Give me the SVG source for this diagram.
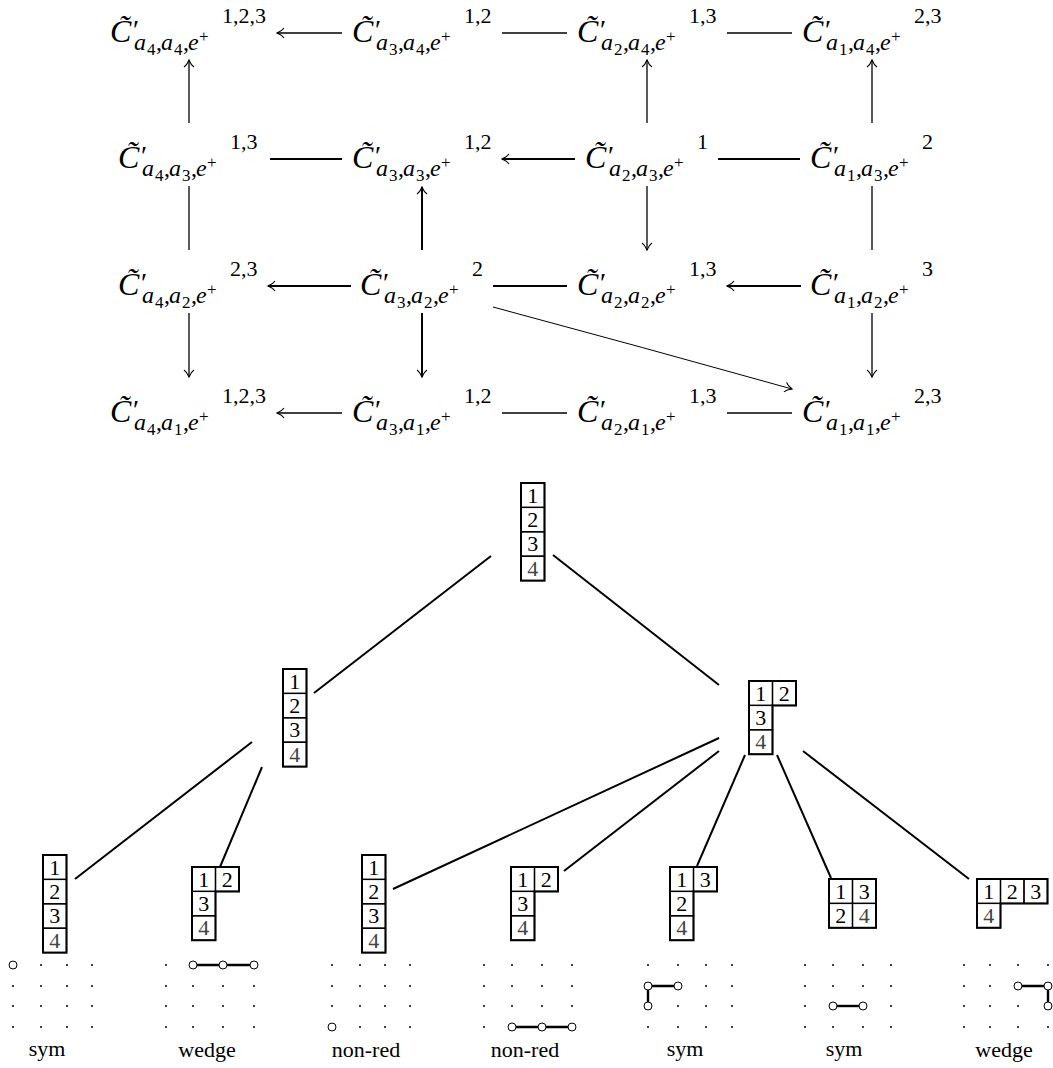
<svg xmlns="http://www.w3.org/2000/svg" width="1053" height="1068" viewBox="0 0 1053 1068" font-family="Liberation Serif, serif">
<style>
text,tspan{font-family:"Liberation Serif",serif}
.nl{font-size:24px;font-style:italic;fill:#000}
.C{font-size:32px}
.pr{font-size:28px;font-style:normal}
.ss{font-style:normal;font-size:17px}
.rm{font-style:normal}
.sup{font-style:normal;font-size:22px}
.th{stroke:#000;stroke-width:1.3;fill:none}
.tk{stroke:#000;stroke-width:2;fill:none}
.dg{stroke:#000;stroke-width:1;fill:none}
.ar{marker-end:url(#to)}
.te{stroke:#000;stroke-width:2;fill:none}
.cell{fill:none;stroke:#000;stroke-width:1.3}
.out{fill:none;stroke:#000;stroke-width:2}
.d{font-size:22px;text-anchor:middle;fill:#000}
.d4{fill:#444}
.dot{fill:#000}
.circ{fill:#fff;stroke:#000;stroke-width:1}
.gl{stroke:#000;stroke-width:2.4;fill:none}
.lab{font-size:22px;text-anchor:middle}
</style>
<defs>
<marker id="to" markerUnits="userSpaceOnUse" markerWidth="14" markerHeight="14" viewBox="-10 -7 14 14" refX="0" refY="0" orient="auto" overflow="visible">
<path d="M-7,-5 C-5,-2 -1.5,-0.6 0,0 C-1.5,0.6 -5,2 -7,5" fill="none" stroke="#000" stroke-width="1.1"/>
</marker>
</defs>

<g id="connectors">
<line class="th ar" x1="342" y1="33" x2="277" y2="33"/>
<line class="th" x1="502" y1="33" x2="567" y2="33"/>
<line class="th" x1="727" y1="33" x2="792" y2="33"/>
<line class="th ar" x1="189" y1="123" x2="189" y2="60"/>
<line class="th ar" x1="647" y1="123" x2="647" y2="60"/>
<line class="th ar" x1="872" y1="123" x2="872" y2="60"/>
<line class="tk" x1="270" y1="159" x2="342" y2="159"/>
<line class="tk ar" x1="575" y1="159" x2="502" y2="159"/>
<line class="tk" x1="718" y1="159" x2="800" y2="159"/>
<line class="th" x1="189" y1="186" x2="189" y2="250"/>
<line class="tk ar" x1="422" y1="250" x2="422" y2="187"/>
<line class="th ar" x1="647" y1="186" x2="647" y2="250"/>
<line class="th" x1="872" y1="186" x2="872" y2="250"/>
<line class="tk ar" x1="351" y1="286" x2="268" y2="286"/>
<line class="tk" x1="493" y1="286" x2="567" y2="286"/>
<line class="tk ar" x1="801" y1="286" x2="727" y2="286"/>
<line class="th ar" x1="189" y1="313" x2="189" y2="377"/>
<line class="tk ar" x1="422" y1="313" x2="422" y2="377"/>
<line class="th ar" x1="872" y1="313" x2="872" y2="377"/>
<line class="th ar" x1="342" y1="413" x2="277" y2="413"/>
<line class="th" x1="502" y1="413" x2="567" y2="413"/>
<line class="th" x1="727" y1="413" x2="792" y2="413"/>
<path class="dg ar" d="M493,307 Q642,347 792,389"/>
<line class="te" x1="491" y1="556" x2="314" y2="693"/>
<line class="te" x1="553" y1="555" x2="719" y2="685"/>
<line class="te" x1="252" y1="742" x2="75" y2="879"/>
<line class="te" x1="262" y1="767" x2="220" y2="867"/>
<line class="te" x1="719" y1="738" x2="393" y2="889"/>
<line class="te" x1="719" y1="751" x2="564" y2="871"/>
<line class="te" x1="745" y1="755" x2="697" y2="866"/>
<line class="te" x1="777" y1="755" x2="831" y2="878"/>
<line class="te" x1="803" y1="751" x2="969" y2="879"/>
</g>

<g id="n44" transform="translate(110,33)"><text class="nl" font-family="Liberation Serif"><tspan class="C" font-family="Liberation Serif" x="0" y="9">C̃</tspan><tspan class="pr" font-family="Liberation Serif" x="23" y="6">′</tspan><tspan font-family="Liberation Serif" x="24" y="17">a</tspan><tspan class="ss" font-family="Liberation Serif" x="37" y="22">4</tspan><tspan class="rm" font-family="Liberation Serif" x="46" y="17">,</tspan><tspan font-family="Liberation Serif" x="51" y="17">a</tspan><tspan class="ss" font-family="Liberation Serif" x="64" y="22">4</tspan><tspan class="rm" font-family="Liberation Serif" x="73" y="17">,</tspan><tspan font-family="Liberation Serif" x="78" y="17">e</tspan><tspan class="ss" font-family="Liberation Serif" x="89" y="9">+</tspan><tspan class="sup" font-family="Liberation Serif" x="112" y="-10">1,2,3</tspan></text></g>
<g id="n34" transform="translate(352,33)"><text class="nl" font-family="Liberation Serif"><tspan class="C" font-family="Liberation Serif" x="0" y="9">C̃</tspan><tspan class="pr" font-family="Liberation Serif" x="23" y="6">′</tspan><tspan font-family="Liberation Serif" x="24" y="17">a</tspan><tspan class="ss" font-family="Liberation Serif" x="37" y="22">3</tspan><tspan class="rm" font-family="Liberation Serif" x="46" y="17">,</tspan><tspan font-family="Liberation Serif" x="51" y="17">a</tspan><tspan class="ss" font-family="Liberation Serif" x="64" y="22">4</tspan><tspan class="rm" font-family="Liberation Serif" x="73" y="17">,</tspan><tspan font-family="Liberation Serif" x="78" y="17">e</tspan><tspan class="ss" font-family="Liberation Serif" x="89" y="9">+</tspan><tspan class="sup" font-family="Liberation Serif" x="112" y="-10">1,2</tspan></text></g>
<g id="n24" transform="translate(577,33)"><text class="nl" font-family="Liberation Serif"><tspan class="C" font-family="Liberation Serif" x="0" y="9">C̃</tspan><tspan class="pr" font-family="Liberation Serif" x="23" y="6">′</tspan><tspan font-family="Liberation Serif" x="24" y="17">a</tspan><tspan class="ss" font-family="Liberation Serif" x="37" y="22">2</tspan><tspan class="rm" font-family="Liberation Serif" x="46" y="17">,</tspan><tspan font-family="Liberation Serif" x="51" y="17">a</tspan><tspan class="ss" font-family="Liberation Serif" x="64" y="22">4</tspan><tspan class="rm" font-family="Liberation Serif" x="73" y="17">,</tspan><tspan font-family="Liberation Serif" x="78" y="17">e</tspan><tspan class="ss" font-family="Liberation Serif" x="89" y="9">+</tspan><tspan class="sup" font-family="Liberation Serif" x="112" y="-10">1,3</tspan></text></g>
<g id="n14" transform="translate(802,33)"><text class="nl" font-family="Liberation Serif"><tspan class="C" font-family="Liberation Serif" x="0" y="9">C̃</tspan><tspan class="pr" font-family="Liberation Serif" x="23" y="6">′</tspan><tspan font-family="Liberation Serif" x="24" y="17">a</tspan><tspan class="ss" font-family="Liberation Serif" x="37" y="22">1</tspan><tspan class="rm" font-family="Liberation Serif" x="46" y="17">,</tspan><tspan font-family="Liberation Serif" x="51" y="17">a</tspan><tspan class="ss" font-family="Liberation Serif" x="64" y="22">4</tspan><tspan class="rm" font-family="Liberation Serif" x="73" y="17">,</tspan><tspan font-family="Liberation Serif" x="78" y="17">e</tspan><tspan class="ss" font-family="Liberation Serif" x="89" y="9">+</tspan><tspan class="sup" font-family="Liberation Serif" x="112" y="-10">2,3</tspan></text></g>

<g id="n43" transform="translate(118,159)"><text class="nl" font-family="Liberation Serif"><tspan class="C" font-family="Liberation Serif" x="0" y="9">C̃</tspan><tspan class="pr" font-family="Liberation Serif" x="23" y="6">′</tspan><tspan font-family="Liberation Serif" x="24" y="17">a</tspan><tspan class="ss" font-family="Liberation Serif" x="37" y="22">4</tspan><tspan class="rm" font-family="Liberation Serif" x="46" y="17">,</tspan><tspan font-family="Liberation Serif" x="51" y="17">a</tspan><tspan class="ss" font-family="Liberation Serif" x="64" y="22">3</tspan><tspan class="rm" font-family="Liberation Serif" x="73" y="17">,</tspan><tspan font-family="Liberation Serif" x="78" y="17">e</tspan><tspan class="ss" font-family="Liberation Serif" x="89" y="9">+</tspan><tspan class="sup" font-family="Liberation Serif" x="112" y="-10">1,3</tspan></text></g>
<g id="n33" transform="translate(352,159)"><text class="nl" font-family="Liberation Serif"><tspan class="C" font-family="Liberation Serif" x="0" y="9">C̃</tspan><tspan class="pr" font-family="Liberation Serif" x="23" y="6">′</tspan><tspan font-family="Liberation Serif" x="24" y="17">a</tspan><tspan class="ss" font-family="Liberation Serif" x="37" y="22">3</tspan><tspan class="rm" font-family="Liberation Serif" x="46" y="17">,</tspan><tspan font-family="Liberation Serif" x="51" y="17">a</tspan><tspan class="ss" font-family="Liberation Serif" x="64" y="22">3</tspan><tspan class="rm" font-family="Liberation Serif" x="73" y="17">,</tspan><tspan font-family="Liberation Serif" x="78" y="17">e</tspan><tspan class="ss" font-family="Liberation Serif" x="89" y="9">+</tspan><tspan class="sup" font-family="Liberation Serif" x="112" y="-10">1,2</tspan></text></g>
<g id="n23" transform="translate(585,159)"><text class="nl" font-family="Liberation Serif"><tspan class="C" font-family="Liberation Serif" x="0" y="9">C̃</tspan><tspan class="pr" font-family="Liberation Serif" x="23" y="6">′</tspan><tspan font-family="Liberation Serif" x="24" y="17">a</tspan><tspan class="ss" font-family="Liberation Serif" x="37" y="22">2</tspan><tspan class="rm" font-family="Liberation Serif" x="46" y="17">,</tspan><tspan font-family="Liberation Serif" x="51" y="17">a</tspan><tspan class="ss" font-family="Liberation Serif" x="64" y="22">3</tspan><tspan class="rm" font-family="Liberation Serif" x="73" y="17">,</tspan><tspan font-family="Liberation Serif" x="78" y="17">e</tspan><tspan class="ss" font-family="Liberation Serif" x="89" y="9">+</tspan><tspan class="sup" font-family="Liberation Serif" x="112" y="-10">1</tspan></text></g>
<g id="n13" transform="translate(810,159)"><text class="nl" font-family="Liberation Serif"><tspan class="C" font-family="Liberation Serif" x="0" y="9">C̃</tspan><tspan class="pr" font-family="Liberation Serif" x="23" y="6">′</tspan><tspan font-family="Liberation Serif" x="24" y="17">a</tspan><tspan class="ss" font-family="Liberation Serif" x="37" y="22">1</tspan><tspan class="rm" font-family="Liberation Serif" x="46" y="17">,</tspan><tspan font-family="Liberation Serif" x="51" y="17">a</tspan><tspan class="ss" font-family="Liberation Serif" x="64" y="22">3</tspan><tspan class="rm" font-family="Liberation Serif" x="73" y="17">,</tspan><tspan font-family="Liberation Serif" x="78" y="17">e</tspan><tspan class="ss" font-family="Liberation Serif" x="89" y="9">+</tspan><tspan class="sup" font-family="Liberation Serif" x="112" y="-10">2</tspan></text></g>

<g id="n42" transform="translate(118,286)"><text class="nl" font-family="Liberation Serif"><tspan class="C" font-family="Liberation Serif" x="0" y="9">C̃</tspan><tspan class="pr" font-family="Liberation Serif" x="23" y="6">′</tspan><tspan font-family="Liberation Serif" x="24" y="17">a</tspan><tspan class="ss" font-family="Liberation Serif" x="37" y="22">4</tspan><tspan class="rm" font-family="Liberation Serif" x="46" y="17">,</tspan><tspan font-family="Liberation Serif" x="51" y="17">a</tspan><tspan class="ss" font-family="Liberation Serif" x="64" y="22">2</tspan><tspan class="rm" font-family="Liberation Serif" x="73" y="17">,</tspan><tspan font-family="Liberation Serif" x="78" y="17">e</tspan><tspan class="ss" font-family="Liberation Serif" x="89" y="9">+</tspan><tspan class="sup" font-family="Liberation Serif" x="112" y="-10">2,3</tspan></text></g>
<g id="n32" transform="translate(360,286)"><text class="nl" font-family="Liberation Serif"><tspan class="C" font-family="Liberation Serif" x="0" y="9">C̃</tspan><tspan class="pr" font-family="Liberation Serif" x="23" y="6">′</tspan><tspan font-family="Liberation Serif" x="24" y="17">a</tspan><tspan class="ss" font-family="Liberation Serif" x="37" y="22">3</tspan><tspan class="rm" font-family="Liberation Serif" x="46" y="17">,</tspan><tspan font-family="Liberation Serif" x="51" y="17">a</tspan><tspan class="ss" font-family="Liberation Serif" x="64" y="22">2</tspan><tspan class="rm" font-family="Liberation Serif" x="73" y="17">,</tspan><tspan font-family="Liberation Serif" x="78" y="17">e</tspan><tspan class="ss" font-family="Liberation Serif" x="89" y="9">+</tspan><tspan class="sup" font-family="Liberation Serif" x="112" y="-10">2</tspan></text></g>
<g id="n22" transform="translate(577,286)"><text class="nl" font-family="Liberation Serif"><tspan class="C" font-family="Liberation Serif" x="0" y="9">C̃</tspan><tspan class="pr" font-family="Liberation Serif" x="23" y="6">′</tspan><tspan font-family="Liberation Serif" x="24" y="17">a</tspan><tspan class="ss" font-family="Liberation Serif" x="37" y="22">2</tspan><tspan class="rm" font-family="Liberation Serif" x="46" y="17">,</tspan><tspan font-family="Liberation Serif" x="51" y="17">a</tspan><tspan class="ss" font-family="Liberation Serif" x="64" y="22">2</tspan><tspan class="rm" font-family="Liberation Serif" x="73" y="17">,</tspan><tspan font-family="Liberation Serif" x="78" y="17">e</tspan><tspan class="ss" font-family="Liberation Serif" x="89" y="9">+</tspan><tspan class="sup" font-family="Liberation Serif" x="112" y="-10">1,3</tspan></text></g>
<g id="n12" transform="translate(810,286)"><text class="nl" font-family="Liberation Serif"><tspan class="C" font-family="Liberation Serif" x="0" y="9">C̃</tspan><tspan class="pr" font-family="Liberation Serif" x="23" y="6">′</tspan><tspan font-family="Liberation Serif" x="24" y="17">a</tspan><tspan class="ss" font-family="Liberation Serif" x="37" y="22">1</tspan><tspan class="rm" font-family="Liberation Serif" x="46" y="17">,</tspan><tspan font-family="Liberation Serif" x="51" y="17">a</tspan><tspan class="ss" font-family="Liberation Serif" x="64" y="22">2</tspan><tspan class="rm" font-family="Liberation Serif" x="73" y="17">,</tspan><tspan font-family="Liberation Serif" x="78" y="17">e</tspan><tspan class="ss" font-family="Liberation Serif" x="89" y="9">+</tspan><tspan class="sup" font-family="Liberation Serif" x="112" y="-10">3</tspan></text></g>

<g id="n41" transform="translate(110,413)"><text class="nl" font-family="Liberation Serif"><tspan class="C" font-family="Liberation Serif" x="0" y="9">C̃</tspan><tspan class="pr" font-family="Liberation Serif" x="23" y="6">′</tspan><tspan font-family="Liberation Serif" x="24" y="17">a</tspan><tspan class="ss" font-family="Liberation Serif" x="37" y="22">4</tspan><tspan class="rm" font-family="Liberation Serif" x="46" y="17">,</tspan><tspan font-family="Liberation Serif" x="51" y="17">a</tspan><tspan class="ss" font-family="Liberation Serif" x="64" y="22">1</tspan><tspan class="rm" font-family="Liberation Serif" x="73" y="17">,</tspan><tspan font-family="Liberation Serif" x="78" y="17">e</tspan><tspan class="ss" font-family="Liberation Serif" x="89" y="9">+</tspan><tspan class="sup" font-family="Liberation Serif" x="112" y="-10">1,2,3</tspan></text></g>
<g id="n31" transform="translate(352,413)"><text class="nl" font-family="Liberation Serif"><tspan class="C" font-family="Liberation Serif" x="0" y="9">C̃</tspan><tspan class="pr" font-family="Liberation Serif" x="23" y="6">′</tspan><tspan font-family="Liberation Serif" x="24" y="17">a</tspan><tspan class="ss" font-family="Liberation Serif" x="37" y="22">3</tspan><tspan class="rm" font-family="Liberation Serif" x="46" y="17">,</tspan><tspan font-family="Liberation Serif" x="51" y="17">a</tspan><tspan class="ss" font-family="Liberation Serif" x="64" y="22">1</tspan><tspan class="rm" font-family="Liberation Serif" x="73" y="17">,</tspan><tspan font-family="Liberation Serif" x="78" y="17">e</tspan><tspan class="ss" font-family="Liberation Serif" x="89" y="9">+</tspan><tspan class="sup" font-family="Liberation Serif" x="112" y="-10">1,2</tspan></text></g>
<g id="n21" transform="translate(577,413)"><text class="nl" font-family="Liberation Serif"><tspan class="C" font-family="Liberation Serif" x="0" y="9">C̃</tspan><tspan class="pr" font-family="Liberation Serif" x="23" y="6">′</tspan><tspan font-family="Liberation Serif" x="24" y="17">a</tspan><tspan class="ss" font-family="Liberation Serif" x="37" y="22">2</tspan><tspan class="rm" font-family="Liberation Serif" x="46" y="17">,</tspan><tspan font-family="Liberation Serif" x="51" y="17">a</tspan><tspan class="ss" font-family="Liberation Serif" x="64" y="22">1</tspan><tspan class="rm" font-family="Liberation Serif" x="73" y="17">,</tspan><tspan font-family="Liberation Serif" x="78" y="17">e</tspan><tspan class="ss" font-family="Liberation Serif" x="89" y="9">+</tspan><tspan class="sup" font-family="Liberation Serif" x="112" y="-10">1,3</tspan></text></g>
<g id="n11" transform="translate(802,413)"><text class="nl" font-family="Liberation Serif"><tspan class="C" font-family="Liberation Serif" x="0" y="9">C̃</tspan><tspan class="pr" font-family="Liberation Serif" x="23" y="6">′</tspan><tspan font-family="Liberation Serif" x="24" y="17">a</tspan><tspan class="ss" font-family="Liberation Serif" x="37" y="22">1</tspan><tspan class="rm" font-family="Liberation Serif" x="46" y="17">,</tspan><tspan font-family="Liberation Serif" x="51" y="17">a</tspan><tspan class="ss" font-family="Liberation Serif" x="64" y="22">1</tspan><tspan class="rm" font-family="Liberation Serif" x="73" y="17">,</tspan><tspan font-family="Liberation Serif" x="78" y="17">e</tspan><tspan class="ss" font-family="Liberation Serif" x="89" y="9">+</tspan><tspan class="sup" font-family="Liberation Serif" x="112" y="-10">2,3</tspan></text></g>

<g id="t-root" transform="translate(521,483)">
<rect class="cell" x="0" y="0" width="23.5" height="24.4"/><rect class="cell" x="0" y="24.4" width="23.5" height="24.4"/><rect class="cell" x="0" y="48.8" width="23.5" height="24.4"/><rect class="cell" x="0" y="73.2" width="23.5" height="24.4"/>
<rect class="out" x="0" y="0" width="23.5" height="97.6"/>
<text class="d" font-family="Liberation Serif" x="11.75" y="19.5">1</text><text class="d" font-family="Liberation Serif" x="11.75" y="43.9">2</text><text class="d" font-family="Liberation Serif" x="11.75" y="68.3">3</text><text class="d d4" font-family="Liberation Serif" x="11.75" y="92.7">4</text>
</g>
<g id="t-left" transform="translate(283,669)">
<rect class="cell" x="0" y="0" width="23.5" height="24.4"/><rect class="cell" x="0" y="24.4" width="23.5" height="24.4"/><rect class="cell" x="0" y="48.8" width="23.5" height="24.4"/><rect class="cell" x="0" y="73.2" width="23.5" height="24.4"/>
<rect class="out" x="0" y="0" width="23.5" height="97.6"/>
<text class="d" font-family="Liberation Serif" x="11.75" y="19.5">1</text><text class="d" font-family="Liberation Serif" x="11.75" y="43.9">2</text><text class="d" font-family="Liberation Serif" x="11.75" y="68.3">3</text><text class="d d4" font-family="Liberation Serif" x="11.75" y="92.7">4</text>
</g>
<g id="t-right" transform="translate(749,681)">
<rect class="cell" x="0" y="0" width="23.5" height="24.4"/><rect class="cell" x="23.5" y="0" width="23.5" height="24.4"/><rect class="cell" x="0" y="24.4" width="23.5" height="24.4"/><rect class="cell" x="0" y="48.8" width="23.5" height="24.4"/>
<path class="out" d="M0,0 H47 V24.4 H23.5 V73.2 H0 Z"/>
<text class="d" font-family="Liberation Serif" x="11.75" y="19.5">1</text><text class="d" font-family="Liberation Serif" x="35.25" y="19.5">2</text><text class="d" font-family="Liberation Serif" x="11.75" y="43.9">3</text><text class="d d4" font-family="Liberation Serif" x="11.75" y="68.3">4</text>
</g>
<g id="t-leaf1" transform="translate(43,855)">
<rect class="cell" x="0" y="0" width="23.5" height="24.4"/><rect class="cell" x="0" y="24.4" width="23.5" height="24.4"/><rect class="cell" x="0" y="48.8" width="23.5" height="24.4"/><rect class="cell" x="0" y="73.2" width="23.5" height="24.4"/>
<rect class="out" x="0" y="0" width="23.5" height="97.6"/>
<text class="d" font-family="Liberation Serif" x="11.75" y="19.5">1</text><text class="d" font-family="Liberation Serif" x="11.75" y="43.9">2</text><text class="d" font-family="Liberation Serif" x="11.75" y="68.3">3</text><text class="d d4" font-family="Liberation Serif" x="11.75" y="92.7">4</text>
</g>
<g id="t-leaf2" transform="translate(192,867)">
<rect class="cell" x="0" y="0" width="23.5" height="24.4"/><rect class="cell" x="23.5" y="0" width="23.5" height="24.4"/><rect class="cell" x="0" y="24.4" width="23.5" height="24.4"/><rect class="cell" x="0" y="48.8" width="23.5" height="24.4"/>
<path class="out" d="M0,0 H47 V24.4 H23.5 V73.2 H0 Z"/>
<text class="d" font-family="Liberation Serif" x="11.75" y="19.5">1</text><text class="d" font-family="Liberation Serif" x="35.25" y="19.5">2</text><text class="d" font-family="Liberation Serif" x="11.75" y="43.9">3</text><text class="d d4" font-family="Liberation Serif" x="11.75" y="68.3">4</text>
</g>
<g id="t-leaf3" transform="translate(362,855)">
<rect class="cell" x="0" y="0" width="23.5" height="24.4"/><rect class="cell" x="0" y="24.4" width="23.5" height="24.4"/><rect class="cell" x="0" y="48.8" width="23.5" height="24.4"/><rect class="cell" x="0" y="73.2" width="23.5" height="24.4"/>
<rect class="out" x="0" y="0" width="23.5" height="97.6"/>
<text class="d" font-family="Liberation Serif" x="11.75" y="19.5">1</text><text class="d" font-family="Liberation Serif" x="11.75" y="43.9">2</text><text class="d" font-family="Liberation Serif" x="11.75" y="68.3">3</text><text class="d d4" font-family="Liberation Serif" x="11.75" y="92.7">4</text>
</g>
<g id="t-leaf4" transform="translate(511,867)">
<rect class="cell" x="0" y="0" width="23.5" height="24.4"/><rect class="cell" x="23.5" y="0" width="23.5" height="24.4"/><rect class="cell" x="0" y="24.4" width="23.5" height="24.4"/><rect class="cell" x="0" y="48.8" width="23.5" height="24.4"/>
<path class="out" d="M0,0 H47 V24.4 H23.5 V73.2 H0 Z"/>
<text class="d" font-family="Liberation Serif" x="11.75" y="19.5">1</text><text class="d" font-family="Liberation Serif" x="35.25" y="19.5">2</text><text class="d" font-family="Liberation Serif" x="11.75" y="43.9">3</text><text class="d d4" font-family="Liberation Serif" x="11.75" y="68.3">4</text>
</g>
<g id="t-leaf5" transform="translate(670,867)">
<rect class="cell" x="0" y="0" width="23.5" height="24.4"/><rect class="cell" x="23.5" y="0" width="23.5" height="24.4"/><rect class="cell" x="0" y="24.4" width="23.5" height="24.4"/><rect class="cell" x="0" y="48.8" width="23.5" height="24.4"/>
<path class="out" d="M0,0 H47 V24.4 H23.5 V73.2 H0 Z"/>
<text class="d" font-family="Liberation Serif" x="11.75" y="19.5">1</text><text class="d" font-family="Liberation Serif" x="35.25" y="19.5">3</text><text class="d" font-family="Liberation Serif" x="11.75" y="43.9">2</text><text class="d d4" font-family="Liberation Serif" x="11.75" y="68.3">4</text>
</g>
<g id="t-leaf6" transform="translate(829,879)">
<rect class="cell" x="0" y="0" width="23.5" height="24.4"/><rect class="cell" x="23.5" y="0" width="23.5" height="24.4"/><rect class="cell" x="0" y="24.4" width="23.5" height="24.4"/><rect class="cell" x="23.5" y="24.4" width="23.5" height="24.4"/>
<rect class="out" x="0" y="0" width="47" height="48.8"/>
<text class="d" font-family="Liberation Serif" x="11.75" y="19.5">1</text><text class="d" font-family="Liberation Serif" x="35.25" y="19.5">3</text><text class="d" font-family="Liberation Serif" x="11.75" y="43.9">2</text><text class="d d4" font-family="Liberation Serif" x="35.25" y="43.9">4</text>
</g>
<g id="t-leaf7" transform="translate(977,879)">
<rect class="cell" x="0" y="0" width="23.5" height="24.4"/><rect class="cell" x="23.5" y="0" width="23.5" height="24.4"/><rect class="cell" x="47" y="0" width="23.5" height="24.4"/><rect class="cell" x="0" y="24.4" width="23.5" height="24.4"/>
<path class="out" d="M0,0 H70.5 V24.4 H23.5 V48.8 H0 Z"/>
<text class="d" font-family="Liberation Serif" x="11.75" y="19.5">1</text><text class="d" font-family="Liberation Serif" x="35.25" y="19.5">2</text><text class="d" font-family="Liberation Serif" x="58.75" y="19.5">3</text><text class="d d4" font-family="Liberation Serif" x="11.75" y="43.9">4</text>
</g>

<g id="g1">
<g class="dot">
<circle cx="41" cy="965" r="1"/><circle cx="67" cy="965" r="1"/><circle cx="92" cy="965" r="1"/>
<circle cx="13" cy="986" r="1"/><circle cx="41" cy="986" r="1"/><circle cx="67" cy="986" r="1"/><circle cx="92" cy="986" r="1"/>
<circle cx="13" cy="1006" r="1"/><circle cx="41" cy="1006" r="1"/><circle cx="67" cy="1006" r="1"/><circle cx="92" cy="1006" r="1"/>
<circle cx="13" cy="1027" r="1"/><circle cx="41" cy="1027" r="1"/><circle cx="67" cy="1027" r="1"/><circle cx="92" cy="1027" r="1"/>
</g>
<circle class="circ" cx="13" cy="965" r="4"/>
<text class="lab" font-family="Liberation Serif" x="47" y="1056">sym</text>
</g>
<g id="g2">
<g class="dot">
<circle cx="166" cy="965" r="1"/>
<circle cx="166" cy="986" r="1"/><circle cx="193" cy="986" r="1"/><circle cx="223" cy="986" r="1"/><circle cx="254" cy="986" r="1"/>
<circle cx="166" cy="1006" r="1"/><circle cx="193" cy="1006" r="1"/><circle cx="223" cy="1006" r="1"/><circle cx="254" cy="1006" r="1"/>
<circle cx="166" cy="1027" r="1"/><circle cx="193" cy="1027" r="1"/><circle cx="223" cy="1027" r="1"/><circle cx="254" cy="1027" r="1"/>
</g>
<line class="gl" x1="193" y1="965" x2="254" y2="965"/>
<circle class="circ" cx="193" cy="965" r="4"/><circle class="circ" cx="223" cy="965" r="4"/><circle class="circ" cx="254" cy="965" r="4"/>
<text class="lab" font-family="Liberation Serif" x="207" y="1057">wedge</text>
</g>
<g id="g3">
<g class="dot">
<circle cx="332" cy="965" r="1"/><circle cx="360" cy="965" r="1"/><circle cx="385" cy="965" r="1"/><circle cx="410" cy="965" r="1"/>
<circle cx="332" cy="986" r="1"/><circle cx="360" cy="986" r="1"/><circle cx="385" cy="986" r="1"/><circle cx="410" cy="986" r="1"/>
<circle cx="332" cy="1006" r="1"/><circle cx="360" cy="1006" r="1"/><circle cx="385" cy="1006" r="1"/><circle cx="410" cy="1006" r="1"/>
<circle cx="360" cy="1027" r="1"/><circle cx="385" cy="1027" r="1"/><circle cx="410" cy="1027" r="1"/>
</g>
<circle class="circ" cx="332" cy="1027" r="4"/>
<text class="lab" font-family="Liberation Serif" x="366" y="1057">non-red</text>
</g>
<g id="g4">
<g class="dot">
<circle cx="484" cy="965" r="1"/><circle cx="512" cy="965" r="1"/><circle cx="542" cy="965" r="1"/><circle cx="572" cy="965" r="1"/>
<circle cx="484" cy="986" r="1"/><circle cx="512" cy="986" r="1"/><circle cx="542" cy="986" r="1"/><circle cx="572" cy="986" r="1"/>
<circle cx="484" cy="1006" r="1"/><circle cx="512" cy="1006" r="1"/><circle cx="542" cy="1006" r="1"/><circle cx="572" cy="1006" r="1"/>
<circle cx="484" cy="1027" r="1"/>
</g>
<line class="gl" x1="512" y1="1027" x2="572" y2="1027"/>
<circle class="circ" cx="512" cy="1027" r="4"/><circle class="circ" cx="542" cy="1027" r="4"/><circle class="circ" cx="572" cy="1027" r="4"/>
<text class="lab" font-family="Liberation Serif" x="525" y="1057">non-red</text>
</g>
<g id="g5">
<g class="dot">
<circle cx="648" cy="965" r="1"/><circle cx="678" cy="965" r="1"/><circle cx="706" cy="965" r="1"/><circle cx="732" cy="965" r="1"/>
<circle cx="706" cy="986" r="1"/><circle cx="732" cy="986" r="1"/>
<circle cx="678" cy="1006" r="1"/><circle cx="706" cy="1006" r="1"/><circle cx="732" cy="1006" r="1"/>
<circle cx="648" cy="1027" r="1"/><circle cx="678" cy="1027" r="1"/><circle cx="706" cy="1027" r="1"/><circle cx="732" cy="1027" r="1"/>
</g>
<path class="gl" d="M678,986 H648 V1006"/>
<circle class="circ" cx="648" cy="986" r="4"/><circle class="circ" cx="678" cy="986" r="4"/><circle class="circ" cx="648" cy="1006" r="4"/>
<text class="lab" font-family="Liberation Serif" x="685" y="1056">sym</text>
</g>
<g id="g6">
<g class="dot">
<circle cx="805" cy="965" r="1"/><circle cx="833" cy="965" r="1"/><circle cx="863" cy="965" r="1"/><circle cx="891" cy="965" r="1"/>
<circle cx="805" cy="986" r="1"/><circle cx="833" cy="986" r="1"/><circle cx="863" cy="986" r="1"/><circle cx="891" cy="986" r="1"/>
<circle cx="805" cy="1006" r="1"/><circle cx="891" cy="1006" r="1"/>
<circle cx="805" cy="1027" r="1"/><circle cx="833" cy="1027" r="1"/><circle cx="863" cy="1027" r="1"/><circle cx="891" cy="1027" r="1"/>
</g>
<line class="gl" x1="833" y1="1006" x2="863" y2="1006"/>
<circle class="circ" cx="833" cy="1006" r="4"/><circle class="circ" cx="863" cy="1006" r="4"/>
<text class="lab" font-family="Liberation Serif" x="844" y="1056">sym</text>
</g>
<g id="g7">
<g class="dot">
<circle cx="964" cy="965" r="1"/><circle cx="990" cy="965" r="1"/><circle cx="1018" cy="965" r="1"/><circle cx="1048" cy="965" r="1"/>
<circle cx="964" cy="986" r="1"/><circle cx="990" cy="986" r="1"/>
<circle cx="964" cy="1006" r="1"/><circle cx="990" cy="1006" r="1"/><circle cx="1018" cy="1006" r="1"/>
<circle cx="964" cy="1027" r="1"/><circle cx="990" cy="1027" r="1"/><circle cx="1018" cy="1027" r="1"/><circle cx="1048" cy="1027" r="1"/>
</g>
<path class="gl" d="M1018,986 H1048 V1006"/>
<circle class="circ" cx="1018" cy="986" r="4"/><circle class="circ" cx="1048" cy="986" r="4"/><circle class="circ" cx="1048" cy="1006" r="4"/>
<text class="lab" font-family="Liberation Serif" x="1004" y="1057">wedge</text>
</g>
</svg>
